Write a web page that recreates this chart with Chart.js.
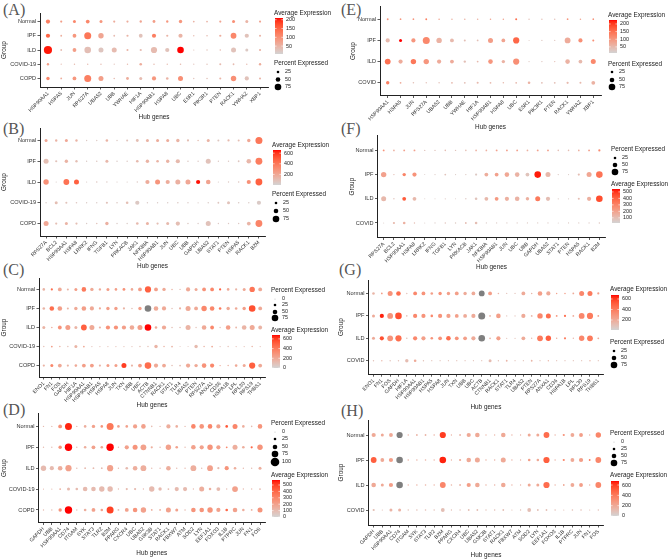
<!DOCTYPE html>
<html>
<head>
<meta charset="utf-8">
<script src="https://cdn.jsdelivr.net/npm/chart.js@4.4.0/dist/chart.umd.min.js"></script>
<style>
body { margin: 0; background: #fff; width: 668px; height: 560px; position: relative; overflow: hidden; }
canvas { position: absolute; }
.tag { position: absolute; font-family: 'Liberation Serif', 'DejaVu Serif', serif; font-size: 16px; line-height: 16px; color: #555; }
</style>
</head>
<body>
<div class="tag" style="left:3px;top:2px">(A)</div>
<div class="tag" style="left:3px;top:121px">(B)</div>
<div class="tag" style="left:3px;top:262px">(C)</div>
<div class="tag" style="left:3px;top:402px">(D)</div>
<div class="tag" style="left:341px;top:2px">(E)</div>
<div class="tag" style="left:341px;top:121px">(F)</div>
<div class="tag" style="left:339px;top:262px">(G)</div>
<div class="tag" style="left:341px;top:403px">(H)</div>
<script>
// ---- data ----
var groups5 = ['Normal', 'IPF', 'ILD', 'COVID-19', 'COPD'];
var groups4 = ['Normal', 'IPF', 'ILD', 'COVID'];

var genesAE = ['HSP90AA1','HSPA5','JUN','RPS27A','UBA52','UBB','YWHAE','HIF1A','HSP90AB1','HSPA8','UBC','ESR1','PIK3R1','PTEN','RACK1','YWHAZ','XBP1'];
var genesBF = ['RPS27A','BCL2','HSP90AA1','HSPA8','LRRK2','IFNG','TGFB1','LYN','PRKACB','JAK1','NFKBIA','HSP90AB1','JUN','UBC','UBB','GAPDH','UBA52','STAT1','PTEN','HSPA5','RACK1','B2M'];
var genesCG = ['ENO1','FN1','FOS','GAPDH','HIF1A','HSP90AA1','HSP90AB1','HSPA5','HSPA8','JUN','TXN','UBB','UBC','ACTB','CTNNB1','RACK1','STAT1','TLR4','UBA52','PTEN','RPS27A','ANXA1','CD36','HSPA1B','LPL','RPL30','RPS19','THBS1'];
var genesDH = ['GAPDH','UBB','HSP90AA1','CD74','ITGAM','SYK','STAT3','TLR2','B2M','PPARG','CXCR4','UBC','UBA52','GSK3B','STAT1','RACK1','FBXW7','ATM','SOD2','LYN','EEF1A1','FOXO3','IL1B','PTPRC','JUN','FN1','FOS'];

// percent expressed, one row per group
var pctA = [
  [45,20,30,40,30,20,20,22,28,22,35,15,15,20,30,30,20],
  [45,15,40,80,60,15,20,40,45,20,45,10,12,20,65,45,18],
  [95,15,40,75,55,55,18,20,70,45,75,8,10,12,55,30,20],
  [22,8,10,10,10,8,10,25,12,10,12,8,10,18,15,10,22],
  [35,15,40,80,55,12,28,30,45,25,55,10,12,18,60,45,18]
];
var expA = [
  [120,80,110,110,90,60,60,70,80,90,90,50,50,70,100,50,70],
  [150,60,90,130,70,40,50,30,120,50,50,40,40,60,110,30,50],
  [205,40,80,35,25,40,50,40,40,30,210,30,30,40,30,20,50],
  [80,40,40,40,40,30,40,60,40,40,40,30,30,40,40,40,60],
  [110,60,90,120,80,40,60,40,90,50,100,30,30,50,100,30,50]
];
var pctE = [
  [16,14,14,16,12,12,12,12,12,12,18,10,10,10,14,12,14],
  [45,30,45,80,60,40,18,15,55,40,70,5,8,8,65,45,18],
  [65,45,60,60,45,40,22,15,50,35,70,8,10,10,50,40,55],
  [35,15,12,10,10,15,15,18,15,12,15,25,15,15,20,18,40]
];
var expE = [
  [100,100,100,130,80,60,60,60,80,80,150,40,40,40,100,80,100],
  [50,230,100,120,60,50,40,40,90,80,160,30,30,30,70,110,110],
  [150,70,140,100,70,70,40,50,100,60,110,30,30,40,60,50,120],
  [130,70,40,40,40,50,40,50,50,50,50,60,40,40,50,50,60]
];
var pctB = [
  [30,22,30,22,10,10,25,10,18,28,30,30,30,35,20,12,30,18,20,18,35,80],
  [55,20,35,22,10,12,30,10,10,25,35,25,35,45,12,10,55,10,10,15,50,78],
  [60,8,65,55,8,12,10,8,8,10,45,55,45,55,55,45,50,8,10,12,45,78],
  [10,30,18,12,10,10,20,12,25,45,10,10,10,12,10,8,10,15,30,12,10,45],
  [55,20,30,20,10,12,35,10,10,25,30,20,30,45,12,10,55,10,10,10,40,78]
];
var expB = [
  [200,150,200,150,50,50,150,50,80,100,150,180,180,150,100,100,150,60,120,100,200,400],
  [100,80,150,100,40,60,130,40,50,120,150,150,150,120,50,50,80,50,50,60,130,380],
  [300,40,420,480,40,60,50,40,40,50,180,280,180,160,200,650,220,40,50,60,300,480],
  [40,100,80,60,40,40,80,50,100,50,40,40,40,50,40,40,40,60,80,40,40,40],
  [200,100,150,100,40,80,160,40,40,120,150,100,120,100,50,40,80,50,50,50,140,350]
];
var pctF = [
  [16,14,16,16,10,10,12,10,12,14,14,16,16,16,14,16,16,12,12,14,16,20],
  [60,10,35,45,5,8,15,8,10,20,40,40,50,50,40,75,55,10,8,20,55,75],
  [55,10,40,40,5,5,8,5,10,25,40,40,45,50,35,55,45,8,8,18,45,75],
  [5,20,25,10,5,8,10,10,15,25,8,8,8,8,8,8,8,5,8,8,8,10]
];
var expF = [
  [250,150,200,200,80,80,100,80,100,150,150,200,200,200,150,200,200,100,100,150,200,280],
  [200,100,300,250,50,60,80,50,60,60,160,200,180,140,80,530,120,60,50,100,180,350],
  [120,80,420,120,50,50,60,50,60,80,120,230,150,140,150,330,100,60,50,100,150,450],
  [50,120,150,100,50,50,80,60,100,100,50,60,60,60,60,60,60,50,60,60,60,70]
];
var pctC = [
  [25,20,40,18,30,50,35,22,30,25,28,25,40,70,40,35,12,10,45,30,40,40,20,25,20,30,60,40],
  [25,50,50,18,35,50,45,20,35,35,20,12,35,75,50,45,10,20,55,40,60,50,25,35,25,35,75,40],
  [30,12,40,55,30,65,55,20,45,45,45,50,55,75,25,45,12,12,55,10,50,40,10,50,15,50,55,40],
  [10,15,12,10,30,15,8,8,8,8,8,8,10,10,35,12,15,5,5,35,12,15,8,10,8,8,12,8],
  [20,30,40,20,25,40,40,20,30,30,55,20,40,75,45,40,12,15,45,35,50,45,10,12,25,30,70,40]
];
var expC = [
  [150,450,200,150,250,400,200,200,250,250,300,200,250,500,250,200,150,100,200,200,300,350,500,200,150,200,420,200],
  [150,450,250,150,200,250,200,200,250,250,150,100,250,null,200,200,100,150,200,200,350,350,400,200,200,250,550,200],
  [150,200,300,250,150,500,200,150,300,300,250,200,250,680,200,200,100,100,150,100,200,350,100,250,150,150,200,150],
  [100,250,150,100,150,200,100,100,100,100,100,100,100,100,150,150,150,80,80,120,150,200,100,100,100,100,150,100],
  [150,350,200,150,200,250,250,150,250,250,600,150,250,450,200,200,100,100,200,200,300,350,200,150,200,200,500,200]
];
var pctG = [
  [25,15,55,50,10,40,40,25,35,35,40,35,40,65,40,12,8,8,40,12,50,45,10,12,15,55,55,20],
  [30,45,65,75,12,45,45,25,45,45,40,40,45,80,15,50,8,8,45,15,60,55,15,20,15,65,70,15],
  [30,45,65,70,12,45,45,25,40,50,40,40,45,75,15,45,8,8,40,10,65,60,10,20,10,60,65,15],
  [10,10,10,10,35,25,10,8,8,8,8,8,8,8,30,10,15,8,8,15,8,10,8,8,8,8,10,8]
];
var expG = [
  [150,250,300,450,100,350,300,250,300,250,250,200,200,null,250,150,100,100,200,150,250,200,250,250,200,350,400,250],
  [200,650,300,550,100,350,300,350,300,250,250,200,200,null,150,250,100,100,200,150,350,450,300,450,200,350,400,250],
  [200,550,300,450,100,350,250,300,300,450,300,250,200,null,150,250,100,100,200,150,400,500,200,400,150,350,400,200],
  [100,150,100,100,120,200,100,100,100,100,100,100,100,100,120,100,150,100,100,150,100,150,100,100,100,100,150,100]
];
var pctD = [
  [10,10,40,80,10,25,35,25,80,25,25,45,50,12,10,45,25,10,50,50,50,45,25,55,25,12,50],
  [10,10,35,85,10,25,40,25,85,10,45,55,65,20,12,60,25,10,50,45,60,45,15,55,25,20,60],
  [60,45,50,70,10,15,15,15,70,10,25,50,65,10,10,50,10,10,65,10,65,20,45,25,10,10,30],
  [8,8,15,30,25,50,50,60,60,10,20,20,10,60,35,15,45,45,10,55,25,40,10,65,10,10,15],
  [10,10,35,85,10,25,40,25,80,15,40,50,60,15,15,55,30,12,50,50,60,45,25,50,25,15,55]
];
var expD = [
  [100,100,250,550,100,150,200,250,350,200,200,200,200,100,100,150,150,100,300,250,300,200,450,300,150,100,250],
  [100,100,250,600,100,150,200,200,600,100,200,250,200,150,100,200,200,100,200,200,250,200,300,150,150,400,250],
  [100,100,150,200,100,100,100,100,200,100,100,150,150,100,100,150,100,100,150,100,200,100,250,150,100,100,150],
  [100,100,150,100,100,100,100,100,100,100,100,100,100,100,100,100,100,100,100,150,150,100,100,200,100,100,100],
  [100,100,250,600,100,150,200,200,500,100,200,250,200,150,150,200,200,100,250,250,250,200,400,200,150,150,250]
];
var pctH = [
  [45,30,40,70,10,15,15,12,70,10,15,45,50,10,10,50,10,10,30,30,65,10,20,40,40,10,60],
  [65,40,45,75,12,12,12,10,75,10,20,50,55,12,12,55,10,10,25,25,70,10,20,40,45,15,65],
  [50,30,45,75,10,12,12,10,65,12,15,45,50,12,12,50,10,10,30,30,70,10,15,40,40,10,65],
  [20,8,30,30,10,12,12,10,40,10,10,15,15,10,12,15,8,10,40,15,15,10,8,12,12,8,10]
];
var expH = [
  [200,200,200,null,150,150,150,150,600,150,150,200,200,150,150,200,150,150,200,200,450,150,300,200,250,150,350],
  [500,200,250,null,150,150,150,150,650,150,200,200,200,150,150,200,150,150,250,200,500,150,350,200,250,400,350],
  [200,200,250,null,150,150,150,150,350,150,150,250,200,150,150,200,150,150,200,200,450,150,200,200,250,150,350],
  [100,100,150,150,100,100,100,100,100,100,100,100,100,100,100,100,100,100,100,100,100,100,100,100,100,100,100]
];

// colour bar limits and legend labels
var expRangeA = [5, 210],  avgTicksA = [200,150,100,50],        pctKeysA = [25,50,75];
var expRangeB = [0, 660],  avgTicksB = [600,400,200],           pctKeysB = [25,50,75];
var expRangeC = [0, 680],  avgTicksC = [600,400,200,0],         pctKeysC = [0,25,50,75];
var expRangeD = [0, 578],  avgTicksD = [500,400,300,200,100,0], pctKeysD = [0,25,50,75,100];
var expRangeE = [10, 226], avgTicksE = [200,150,100,50],        pctKeysE = [25,50,75];
var expRangeF = [20, 545], avgTicksF = [500,400,300,200,100],   pctKeysF = [25,50,75];
var expRangeG = [10, 676], avgTicksG = [600,400,200],           pctKeysG = [25,50,75];
var expRangeH = [0, 678],  avgTicksH = [600,400,200,0],         pctKeysH = [0,25,50,75];

// ---- colour: lightgrey -> red, interpolated in Lab like ggplot ----
function lin(c) { c /= 255; return c <= 0.04045 ? c / 12.92 : Math.pow((c + 0.055) / 1.055, 2.4); }
function gam(c) { c = c <= 0.0031308 ? 12.92 * c : 1.055 * Math.pow(c, 1 / 2.4) - 0.055; return Math.round(Math.max(0, Math.min(1, c)) * 255); }
function toLab(rgb) {
  var r = lin(rgb[0]), g = lin(rgb[1]), b = lin(rgb[2]);
  var X = (0.4124 * r + 0.3576 * g + 0.1805 * b) / 0.95047;
  var Y = 0.2126 * r + 0.7152 * g + 0.0722 * b;
  var Z = (0.0193 * r + 0.1192 * g + 0.9505 * b) / 1.08883;
  var f = function(t) { return t > 0.008856 ? Math.cbrt(t) : 7.787 * t + 16 / 116; };
  return [116 * f(Y) - 16, 500 * (f(X) - f(Y)), 200 * (f(Y) - f(Z))];
}
function fromLab(L, a, bb) {
  var fy = (L + 16) / 116, fx = fy + a / 500, fz = fy - bb / 200;
  var inv = function(t) { return t * t * t > 0.008856 ? t * t * t : (t - 16 / 116) / 7.787; };
  var X = inv(fx) * 0.95047, Y = inv(fy), Z = inv(fz) * 1.08883;
  var r = 3.2406 * X - 1.5372 * Y - 0.4986 * Z;
  var g = -0.9689 * X + 1.8758 * Y + 0.0415 * Z;
  var b = 0.0557 * X - 0.2040 * Y + 1.0570 * Z;
  return 'rgb(' + gam(r) + ',' + gam(g) + ',' + gam(b) + ')';
}
var labLow = toLab([211, 211, 211]), labHigh = toLab([255, 0, 0]);
function colourAt(t) {
  t = Math.max(0, Math.min(1, t));
  return fromLab(labLow[0] + (labHigh[0] - labLow[0]) * t,
                 labLow[1] + (labHigh[1] - labLow[1]) * t,
                 labLow[2] + (labHigh[2] - labLow[2]) * t);
}
function dotRadius(p) { return 0.3 + 0.04 * p; }

// ---- legend plugin ----
var dotLegend = {
  id: 'dotLegend',
  afterDraw: function(chart, args, o) {
    var ctx = chart.ctx;
    var x = o.x - o.ox;
    ctx.save();
    ctx.textBaseline = 'middle';
    ctx.textAlign = 'left';
    ctx.fillStyle = '#222';
    ctx.font = '6.4px "Liberation Sans", Arial, sans-serif';
    ctx.fillText('Average Expression', x, o.avgTitle - o.oy);
    ctx.fillText('Percent Expressed', x, o.pctTitle - o.oy);

    var bt = o.bar[0] - o.oy, bb = o.bar[1] - o.oy;
    var grad = ctx.createLinearGradient(0, bb, 0, bt);
    for (var i = 0; i <= 20; i++) grad.addColorStop(i / 20, colourAt(i / 20));
    ctx.fillStyle = grad;
    ctx.fillRect(x + 1, bt, 8, bb - bt);

    ctx.font = '5.4px "Liberation Sans", Arial, sans-serif';
    o.ticks.forEach(function(v) {
      var y = bb - (v - o.range[0]) / (o.range[1] - o.range[0]) * (bb - bt);
      ctx.strokeStyle = '#fff';
      ctx.lineWidth = 0.6;
      ctx.beginPath();
      ctx.moveTo(x + 1, y); ctx.lineTo(x + 2.6, y);
      ctx.moveTo(x + 7.4, y); ctx.lineTo(x + 9, y);
      ctx.stroke();
      ctx.fillStyle = '#222';
      ctx.fillText(String(v), x + 12, y);
    });

    o.keys.forEach(function(v, i) {
      var y = o.keyY[i] - o.oy;
      ctx.fillStyle = '#000';
      ctx.beginPath();
      ctx.arc(x + 4, y, dotRadius(v), 0, Math.PI * 2);
      ctx.fill();
      ctx.fillStyle = '#222';
      ctx.fillText(String(v), x + 11, y);
    });
    ctx.restore();
  }
};

// ---- panels ----
var panels = [
  { genes: genesAE, groups: groups5, pct: pctA, exp: expA, range: expRangeA, ticks: avgTicksA, keys: pctKeysA,
    box: [0, 0, 334, 121], plot: [40, 13, 268, 87],
    leg: { x: 274, avgTitle: 13, bar: [18, 54], pctTitle: 63, keyY: [72, 79.5, 87] } },
  { genes: genesBF, groups: groups5, pct: pctB, exp: expB, range: expRangeB, ticks: avgTicksB, keys: pctKeysB,
    box: [0, 122, 334, 148], plot: [40, 128, 265, 236],
    leg: { x: 272, avgTitle: 145, bar: [150, 185], pctTitle: 194, keyY: [203, 211, 219] } },
  { genes: genesCG, groups: groups5, pct: pctC, exp: expC, range: expRangeC, ticks: avgTicksC, keys: pctKeysC,
    box: [0, 271, 334, 138], plot: [39, 278, 265, 377],
    leg: { x: 271, pctTitle: 290, keyY: [299, 305, 312, 318], avgTitle: 330, bar: [335, 368] } },
  { genes: genesDH, groups: groups5, pct: pctD, exp: expD, range: expRangeD, ticks: avgTicksD, keys: pctKeysD,
    box: [0, 409, 334, 148], plot: [38.5, 413.5, 265, 522.5],
    leg: { x: 271, pctTitle: 423, keyY: [432, 439, 447, 454, 462], avgTitle: 475, bar: [480, 517] } },
  { genes: genesAE, groups: groups4, pct: pctE, exp: expE, range: expRangeE, ticks: avgTicksE, keys: pctKeysE,
    box: [349, 0, 319, 131], plot: [380, 6.5, 601, 95.5],
    leg: { x: 608, avgTitle: 15, bar: [20, 53], pctTitle: 64, keyY: [72, 80, 87] } },
  { genes: genesBF, groups: groups4, pct: pctF, exp: expF, range: expRangeF, ticks: avgTicksF, keys: pctKeysF,
    box: [348, 131, 320, 140], plot: [377.5, 132.5, 605.5, 237.5],
    leg: { x: 611, pctTitle: 149, keyY: [158, 165, 172], avgTitle: 184, bar: [189, 223] } },
  { genes: genesCG, groups: groups4, pct: pctG, exp: expG, range: expRangeG, ticks: avgTicksG, keys: pctKeysG,
    box: [337, 271, 331, 140], plot: [368.5, 280, 603.3, 374.2],
    leg: { x: 610, avgTitle: 289, bar: [295, 330], pctTitle: 342, keyY: [351, 358, 365] } },
  { genes: genesDH, groups: groups4, pct: pctH, exp: expH, range: expRangeH, ticks: avgTicksH, keys: pctKeysH,
    box: [337, 411, 331, 148], plot: [368.5, 420, 603.5, 525],
    leg: { x: 610, pctTitle: 433, keyY: [442, 449, 456, 463], avgTitle: 475, bar: [481, 516] } }
];

Chart.defaults.font.family = '"Liberation Sans", Arial, sans-serif';
Chart.defaults.color = '#333';

panels.forEach(function(p) {
  var cv = document.createElement('canvas');
  cv.width = p.box[2];
  cv.height = p.box[3];
  cv.style.left = p.box[0] + 'px';
  cv.style.top = p.box[1] + 'px';
  cv.style.width = p.box[2] + 'px';
  cv.style.height = p.box[3] + 'px';
  document.body.appendChild(cv);

  var points = [];
  p.groups.forEach(function(g, gi) {
    p.genes.forEach(function(gene, i) {
      var e = p.exp[gi][i];
      points.push({
        x: i, y: gi,
        r: dotRadius(p.pct[gi][i]),
        c: e === null ? '#7f7f7f' : colourAt((e - p.range[0]) / (p.range[1] - p.range[0]))
      });
    });
  });

  var boxBottom = p.box[1] + p.box[3];
  var axisStyle = {
    grid: { drawOnChartArea: false, tickLength: 2.5, color: '#333', lineWidth: 0.8 },
    border: { color: '#222', width: 1 }
  };

  new Chart(cv, {
    type: 'bubble',
    data: {
      datasets: [{
        data: points,
        backgroundColor: function(ctx) { return ctx.raw ? ctx.raw.c : '#ccc'; },
        borderWidth: 0,
        hoverRadius: 0
      }]
    },
    options: {
      responsive: false,
      animation: false,
      events: [],
      layout: { padding: { left: 0, top: p.plot[1] - p.box[1], right: p.box[0] + p.box[2] - p.plot[2], bottom: 0 } },
      plugins: {
        legend: { display: false },
        tooltip: { enabled: false },
        dotLegend: Object.assign({ ox: p.box[0], oy: p.box[1], range: p.range, ticks: p.ticks, keys: p.keys }, p.leg)
      },
      scales: {
        x: Object.assign({
          type: 'linear',
          min: -0.6,
          max: p.genes.length - 0.4,
          afterBuildTicks: function(s) { s.ticks = p.genes.map(function(g, i) { return { value: i }; }); },
          afterFit: function(s) { s.height = boxBottom - p.plot[3]; },
          ticks: {
            autoSkip: false, minRotation: 45, maxRotation: 45, padding: 1,
            font: { size: 5.2 }, color: '#333',
            callback: function(v) { return p.genes[v]; }
          },
          title: { display: true, text: 'Hub genes', font: { size: 6.4 }, color: '#222', padding: 0 }
        }, axisStyle),
        y: Object.assign({
          type: 'linear',
          reverse: true,
          min: -0.6,
          max: p.groups.length - 0.4,
          afterBuildTicks: function(s) { s.ticks = p.groups.map(function(g, i) { return { value: i }; }); },
          afterFit: function(s) { s.width = p.plot[0] - p.box[0]; },
          ticks: {
            padding: 1.5, font: { size: 5.6 }, color: '#333',
            callback: function(v) { return p.groups[v]; }
          },
          title: { display: true, text: 'Group', font: { size: 6.4 }, color: '#222', padding: 0 }
        }, axisStyle)
      }
    },
    plugins: [dotLegend]
  });
});
</script>
</body>
</html>
